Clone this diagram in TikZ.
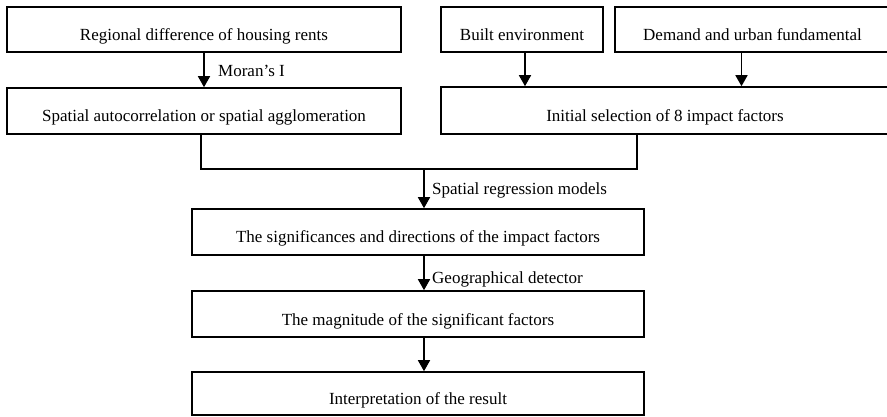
\documentclass[tikz,border=0pt]{standalone}
\usepackage{fontspec}
\setmainfont{Liberation Serif}
\usetikzlibrary{arrows.meta,calc}
\begin{document}
\begin{tikzpicture}[x=1pt,y=-1pt,
  box/.style={draw,line width=1.6pt,inner sep=0pt,text height=22pt,text depth=0pt,
    font=\fontsize{17}{20}\selectfont},
  arr/.style={line width=1.6pt,-{Triangle[width=12pt,length=11pt]}},
  lnk/.style={line width=1.6pt},
  lbl/.style={anchor=base west,inner sep=0pt,font=\fontsize{17}{20}\selectfont}]
\useasboundingbox (0,0) rectangle (887,417);
\node[box,minimum width=394pt,minimum height=45pt] (reg) at (204,29.5) {Regional difference of housing rents};
\node[box,minimum width=394pt,minimum height=46pt] (spa) at (204,111) {Spatial autocorrelation or spatial agglomeration};
\node[box,minimum width=162pt,minimum height=45pt] (built) at (522,29.5) {Built environment};
\node[box,minimum width=275pt,minimum height=45pt] (dem) at (752.5,29.5) {Demand and urban fundamental};
\node[box,minimum width=448pt,minimum height=47pt] (init) at (665,110.5) {Initial selection of 8 impact factors};
\node[box,minimum width=452pt,minimum height=46pt] (sig) at (418,232) {The significances and directions of the impact factors};
\node[box,minimum width=452pt,minimum height=46pt] (mag) at (418,314) {The magnitude of the significant factors};
\node[box,minimum width=452pt,minimum height=43pt] (int) at (418,393.5) {Interpretation of the result};
\coordinate (m) at (424,169);
\draw[arr] (reg) -- (spa);
\node[lbl] (moran) at (218,77) {Moran’s I};
\draw[arr] ([xshift=3pt]built.south) -- ([xshift=3pt]built.south |- init.north);
\draw[arr] ([xshift=-11pt]dem.south) -- ([xshift=-11pt]dem.south |- init.north);
\draw[lnk] ([xshift=-3pt]spa.south) |- (m) -| ([xshift=-28pt]init.south);
\draw[arr] (m) -- (m |- sig.north);
\node[lbl] (srm) at (432,195) {Spatial regression models};
\draw[arr] (sig.south -| m) -- (mag.north -| m);
\node[lbl] (geo) at (432,283) {Geographical detector};
\draw[arr] (mag.south -| m) -- (int.north -| m);
\end{tikzpicture}
\end{document}
